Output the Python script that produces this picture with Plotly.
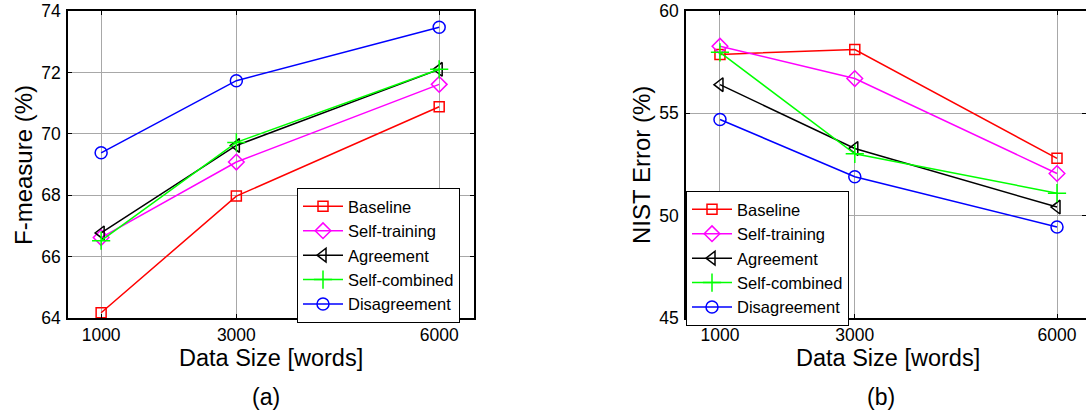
import plotly.graph_objects as go

sizes = [1000, 3000, 6000]
series_names = ["Baseline", "Self-training", "Agreement", "Self-combined", "Disagreement"]

fmeasure_baseline = [64.17, 67.97, 70.88]
fmeasure_selftraining = [66.62, 69.08, 71.61]
fmeasure_agreement = [66.77, 69.62, 72.10]
fmeasure_selfcombined = [66.52, 69.72, 72.10]
fmeasure_disagreement = [69.38, 71.73, 73.47]

nist_baseline = [57.88, 58.12, 52.80]
nist_selftraining = [58.28, 56.70, 52.06]
nist_agreement = [56.40, 53.28, 50.42]
nist_selfcombined = [57.98, 53.02, 51.10]
nist_disagreement = [54.70, 51.90, 49.45]

colors = ["#FF0000", "#FF00FF", "#000000", "#00FF00", "#0000FF"]
symbols = ["square-open", "diamond-open", "triangle-left-open", "cross-thin-open", "circle-open"]
msizes = [10, 12, 12, 13, 12]

fm = [fmeasure_baseline, fmeasure_selftraining, fmeasure_agreement, fmeasure_selfcombined, fmeasure_disagreement]
ne = [nist_baseline, nist_selftraining, nist_agreement, nist_selfcombined, nist_disagreement]

FONT = "Liberation Sans, Arial, sans-serif"
W, H = 1086, 410

fig = go.Figure()
for i, name in enumerate(series_names):
    fig.add_trace(go.Scatter(
        x=sizes, y=fm[i], name=name, mode="lines+markers",
        line=dict(color=colors[i], width=1.5),
        marker=dict(symbol=symbols[i], size=msizes[i], color=colors[i],
                    line=dict(color=colors[i], width=1.5)),
        xaxis="x", yaxis="y", legend="legend", legendgroup="a" + str(i)))
for i, name in enumerate(series_names):
    fig.add_trace(go.Scatter(
        x=sizes, y=ne[i], name=name, mode="lines+markers",
        line=dict(color=colors[i], width=1.5),
        marker=dict(symbol=symbols[i], size=msizes[i], color=colors[i],
                    line=dict(color=colors[i], width=1.5)),
        xaxis="x2", yaxis="y2", legend="legend2", legendgroup="b" + str(i)))

ydom = [1 - 318 / H, 1 - 11 / H]
axis_common = dict(showline=True, linecolor="black", linewidth=1.5, mirror="ticks",
                   ticks="inside", ticklen=4, tickcolor="black", automargin=False,
                   showgrid=True, gridcolor="#A8A8A8", gridwidth=1, zeroline=False,
                   tickfont=dict(family=FONT, size=17.5, color="black"))

leg_common = dict(bgcolor="white", bordercolor="black", borderwidth=1,
                  font=dict(family=FONT, size=16.5, color="black"),
                  traceorder="grouped", tracegroupgap=0,
                  xanchor="left", yanchor="top", itemwidth=40)

fig.update_layout(
    width=W, height=H, margin=dict(l=0, r=0, t=0, b=0, autoexpand=False),
    paper_bgcolor="white", plot_bgcolor="white",
    font=dict(family=FONT, color="black"),
    xaxis=dict(domain=[68 / W, 474 / W], range=[510, 6515], tickvals=sizes, anchor="y",
               ticklabelstandoff=0, **axis_common),
    yaxis=dict(domain=ydom, range=[64, 74], dtick=2, anchor="x", ticklabelstandoff=2, **axis_common),
    xaxis2=dict(domain=[686 / W, 1.0], range=[496, 6430], tickvals=sizes, anchor="y2",
                ticklabelstandoff=0, **axis_common),
    yaxis2=dict(domain=ydom, range=[45, 60], dtick=5, anchor="x2", ticklabelstandoff=2, **axis_common),
    legend=dict(x=297 / W, y=1 - 188 / H, **leg_common),
    legend2=dict(x=686 / W, y=1 - 191 / H, **leg_common),
    showlegend=True,
)

ann = [
    dict(text="F-measure (%)", x=23 / W, y=1 - 165 / H, textangle=-90, size=24),
    dict(text="Data Size [words]", x=271 / W, y=1 - 358 / H, size=23.5),
    dict(text="(a)", x=266 / W, y=1 - 397 / H, size=23),
    dict(text="NIST Error (%)", x=641 / W, y=1 - 165 / H, textangle=-90, size=24),
    dict(text="Data Size [words]", x=888 / W, y=1 - 358 / H, size=23.5),
    dict(text="(b)", x=881 / W, y=1 - 397 / H, size=23),
]
for a in ann:
    fig.add_annotation(xref="paper", yref="paper", showarrow=False,
                       xanchor="center", yanchor="middle",
                       text=a["text"], x=a["x"], y=a["y"],
                       textangle=a.get("textangle", 0),
                       font=dict(family=FONT, color="black", size=a["size"]))

fig.write_html(
    "out.html",
    post_script="document.body.style.margin='0';document.body.style.padding='0';"
                "document.documentElement.style.overflow='hidden';document.body.style.overflow='hidden';",
)
